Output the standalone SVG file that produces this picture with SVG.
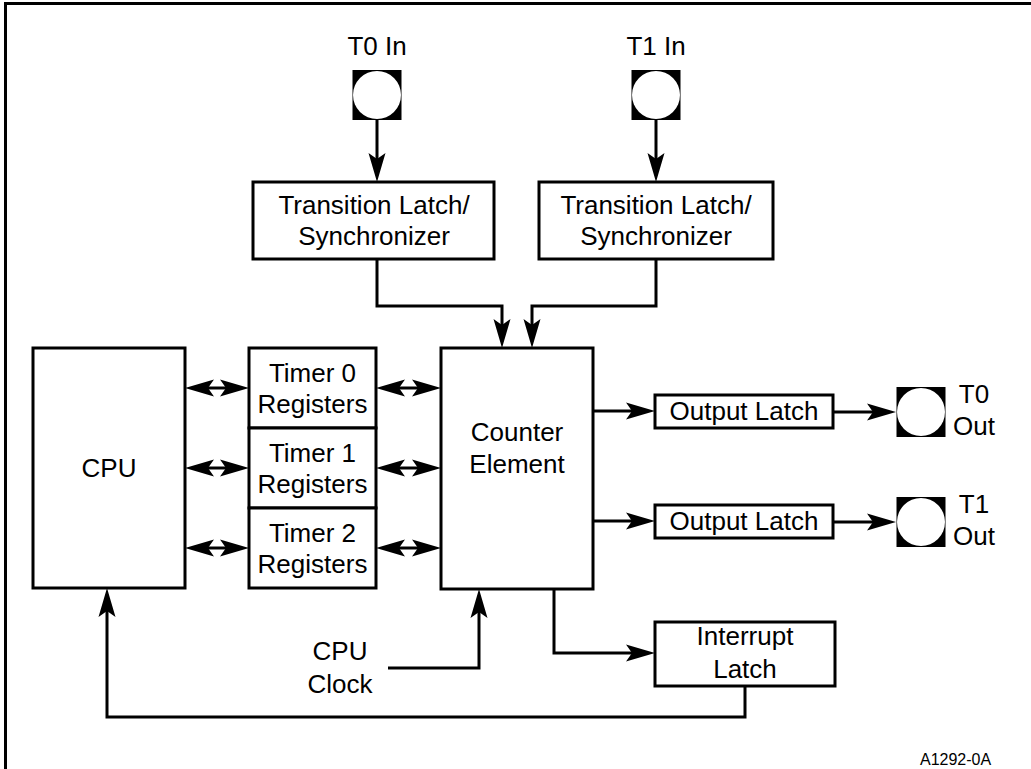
<svg xmlns="http://www.w3.org/2000/svg" width="1031" height="769" viewBox="0 0 1031 769">
<style>
.box{fill:#fff;stroke:#000;stroke-width:3}
.ln{fill:none;stroke:#000;stroke-width:3}
.t{font-family:"Liberation Sans",Arial,sans-serif;font-size:26px;fill:#000;text-anchor:middle}
.s{font-family:"Liberation Sans",Arial,sans-serif;font-size:16px;fill:#000}
</style>
<defs>
<marker id="ah" viewBox="-12 -12 34 24" markerWidth="34" markerHeight="24" refX="0" refY="0" orient="auto-start-reverse" markerUnits="userSpaceOnUse">
<path d="M20,0 L-9,-8.5 L-3,0 L-9,8.5 Z" fill="#000"/>
</marker>
<g id="pin-shape">
<rect x="-24.5" y="-25" width="49" height="50" fill="#000"/>
<circle cx="0" cy="0" r="24" fill="#fff"/>
</g>
</defs>
<rect x="5.5" y="3.5" width="1040" height="800" fill="none" stroke="#000" stroke-width="3"/>

<g id="t0in">
<text class="t" x="377" y="55">T0 In</text>
<use href="#pin-shape" x="377" y="95"/>
</g>
<g id="t1in">
<text class="t" x="656" y="55">T1 In</text>
<use href="#pin-shape" x="656" y="95"/>
</g>
<g id="sync0">
<rect class="box" x="253" y="182" width="241" height="77"/>
<text class="t" x="374" y="214">Transition Latch/</text>
<text class="t" x="374" y="245">Synchronizer</text>
</g>
<g id="sync1">
<rect class="box" x="539" y="182" width="234" height="77"/>
<text class="t" x="656" y="214">Transition Latch/</text>
<text class="t" x="656" y="245">Synchronizer</text>
</g>
<g id="cpu">
<rect class="box" x="33" y="348" width="152" height="240"/>
<text class="t" x="109" y="477">CPU</text>
</g>
<g id="timer0">
<rect class="box" x="249" y="348" width="127" height="80"/>
<text class="t" x="312.5" y="382">Timer 0</text>
<text class="t" x="312.5" y="413">Registers</text>
</g>
<g id="timer1">
<rect class="box" x="249" y="428" width="127" height="80"/>
<text class="t" x="312.5" y="462">Timer 1</text>
<text class="t" x="312.5" y="493">Registers</text>
</g>
<g id="timer2">
<rect class="box" x="249" y="508" width="127" height="80"/>
<text class="t" x="312.5" y="542">Timer 2</text>
<text class="t" x="312.5" y="573">Registers</text>
</g>
<g id="counter">
<rect class="box" x="441" y="348" width="152" height="241"/>
<text class="t" x="517" y="441">Counter</text>
<text class="t" x="517" y="473">Element</text>
</g>
<g id="outlatch0">
<rect class="box" x="655" y="395" width="178" height="33"/>
<text class="t" x="744" y="420">Output Latch</text>
</g>
<g id="outlatch1">
<rect class="box" x="655" y="505" width="178" height="33"/>
<text class="t" x="744" y="530">Output Latch</text>
</g>
<g id="t0out">
<use href="#pin-shape" x="921" y="412"/>
<text class="t" x="974" y="403">T0</text>
<text class="t" x="974" y="435">Out</text>
</g>
<g id="t1out">
<use href="#pin-shape" x="921" y="522"/>
<text class="t" x="974" y="513">T1</text>
<text class="t" x="974" y="545">Out</text>
</g>
<g id="intlatch">
<rect class="box" x="655" y="622" width="180" height="64"/>
<text class="t" x="745" y="645">Interrupt</text>
<text class="t" x="745" y="678">Latch</text>
</g>
<g id="cpuclock">
<text class="t" x="340" y="660">CPU</text>
<text class="t" x="340" y="693">Clock</text>
</g>
<text class="s" x="920" y="765">A1292-0A</text>

<g id="connectors">
<path class="ln" d="M377,120 V162" marker-end="url(#ah)"/>
<path class="ln" d="M656,120 V162" marker-end="url(#ah)"/>
<path class="ln" d="M377,259 V306 H502 V328" marker-end="url(#ah)"/>
<path class="ln" d="M656,259 V306 H532 V328" marker-end="url(#ah)"/>
<path class="ln" d="M205,388 H229" marker-start="url(#ah)" marker-end="url(#ah)"/>
<path class="ln" d="M205,468 H229" marker-start="url(#ah)" marker-end="url(#ah)"/>
<path class="ln" d="M205,548 H229" marker-start="url(#ah)" marker-end="url(#ah)"/>
<path class="ln" d="M396,388 H421" marker-start="url(#ah)" marker-end="url(#ah)"/>
<path class="ln" d="M396,468 H421" marker-start="url(#ah)" marker-end="url(#ah)"/>
<path class="ln" d="M396,548 H421" marker-start="url(#ah)" marker-end="url(#ah)"/>
<path class="ln" d="M593,411 H635" marker-end="url(#ah)"/>
<path class="ln" d="M593,521 H635" marker-end="url(#ah)"/>
<path class="ln" d="M833,412 H876" marker-end="url(#ah)"/>
<path class="ln" d="M833,522 H876" marker-end="url(#ah)"/>
<path class="ln" d="M554,589 V653 H635" marker-end="url(#ah)"/>
<path class="ln" d="M388,668 H479 V609" marker-end="url(#ah)"/>
<path class="ln" d="M745,686 V717 H107 V608" marker-end="url(#ah)"/>
</g>
</svg>
